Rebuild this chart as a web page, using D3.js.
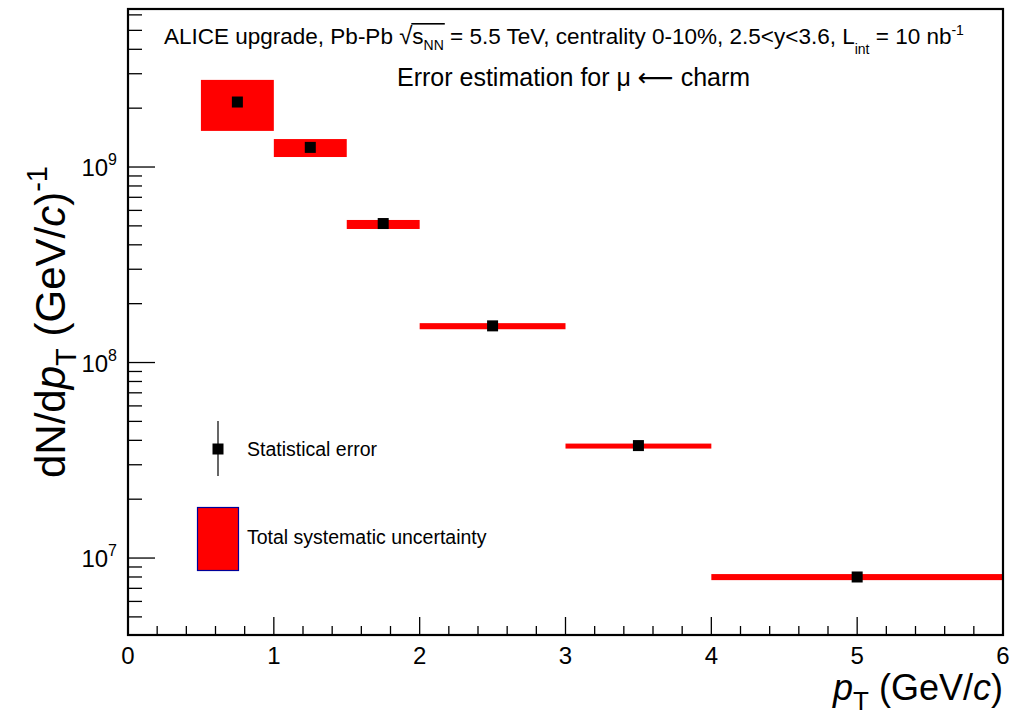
<!DOCTYPE html>
<html>
<head>
<meta charset="utf-8">
<script src="https://cdn.jsdelivr.net/npm/d3@7"></script>
<style>
  body { margin: 0; background: #fff; }
  text { font-family: "Liberation Sans", Arial, sans-serif; fill: #000; white-space: pre; }
</style>
</head>
<body>
<div id="chart"></div>
<script>
// pT bins (GeV/c) and spectrum values
var binLow  = [0.5, 1.0, 1.5, 2.0, 3.0, 4.0];
var binHigh = [1.0, 1.5, 2.0, 3.0, 4.0, 6.0];
var binCenter = [0.75, 1.25, 1.75, 2.5, 3.5, 5.0];
var yield_ = [2.15e9, 1.26e9, 5.14e8, 1.54e8, 3.76e7, 8.0e6];
var sysLow  = [1.53e9, 1.125e9, 4.82e8, 1.48e8, 3.63e7, 7.71e6];
var sysHigh = [2.79e9, 1.39e9, 5.36e8, 1.59e8, 3.85e7, 8.28e6];

var xTicks = [0, 1, 2, 3, 4, 5, 6];
var yDecades = [7, 8, 9];

var W = 1011, H = 720;
var margin = { top: 9, right: 8, bottom: 85, left: 128 },
  width = W - margin.left - margin.right,
  height = H - margin.top - margin.bottom;

var svg = d3.select("#chart")
  .append("svg")
  .attr("width", W)
  .attr("height", H);

var g = svg.append("g")
  .attr("transform", "translate(" + margin.left + "," + margin.top + ")");

var x = d3.scaleLinear().domain([0, 6]).range([0, width]);
var y = d3.scaleLog().domain([4.04e6, 6.43e9]).range([height, 0]);

// systematic boxes
g.selectAll("rect.sys")
  .data(binLow)
  .enter()
  .append("rect")
  .attr("class", "sys")
  .attr("x", function (d, i) { return x(binLow[i]); })
  .attr("width", function (d, i) { return x(binHigh[i]) - x(binLow[i]); })
  .attr("y", function (d, i) { return y(sysHigh[i]); })
  .attr("height", function (d, i) { return y(sysLow[i]) - y(sysHigh[i]); })
  .attr("fill", "#ff0000");

// markers
var ms = 11;
g.selectAll("rect.pt")
  .data(yield_)
  .enter()
  .append("rect")
  .attr("class", "pt")
  .attr("x", function (d, i) { return x(binCenter[i]) - ms / 2; })
  .attr("y", function (d) { return y(d) - ms / 2; })
  .attr("width", ms)
  .attr("height", ms)
  .attr("fill", "#000");

// x axis ticks, drawn inside the frame
var xMinor = d3.range(0, 31).map(function (i) { return i / 5; });
g.append("g").selectAll("line")
  .data(xMinor)
  .enter()
  .append("line")
  .attr("x1", function (d) { return x(d); })
  .attr("x2", function (d) { return x(d); })
  .attr("y1", height)
  .attr("y2", function (d) { return height - (xTicks.indexOf(d) >= 0 ? 18 : 9); })
  .attr("stroke", "#000").attr("stroke-width", 1.3);

g.append("g").selectAll("text")
  .data(xTicks)
  .enter()
  .append("text")
  .attr("x", function (d) { return x(d); })
  .attr("y", height + 29)
  .attr("text-anchor", "middle")
  .attr("font-size", 24)
  .text(function (d) { return d; });

// y axis ticks (log), inside the frame
var yMinor = [];
for (var e = 6; e <= 9; e++) {
  for (var m = 1; m <= 9; m++) {
    var v = m * Math.pow(10, e);
    if (v >= y.domain()[0] && v <= y.domain()[1]) yMinor.push(v);
  }
}
g.append("g").selectAll("line")
  .data(yMinor)
  .enter()
  .append("line")
  .attr("x1", 0)
  .attr("x2", function (d) { return Math.abs(Math.log10(d) % 1) < 1e-9 ? 27 : 14; })
  .attr("y1", function (d) { return y(d); })
  .attr("y2", function (d) { return y(d); })
  .attr("stroke", "#000").attr("stroke-width", 1.3);

yDecades.forEach(function (d) {
  var t = g.append("text")
    .attr("x", -11)
    .attr("y", y(Math.pow(10, d)) + 9)
    .attr("text-anchor", "end")
    .attr("font-size", 24);
  t.append("tspan").text("10");
  t.append("tspan").attr("font-size", 16).attr("dy", -11).text(d);
});

// frame
g.append("rect")
  .attr("width", width).attr("height", height)
  .attr("fill", "none").attr("stroke", "#000").attr("stroke-width", 2.2);

// rich text helper: pieces laid out one after another
function rich(parent, parts) {
  var grp = parent.append("g");
  var cx = 0, pos = [];
  parts.forEach(function (p) {
    var t = grp.append("text")
      .attr("x", cx)
      .attr("y", p.dy || 0)
      .attr("font-size", p.size)
      .style("font-style", p.italic ? "italic" : "normal")
      .text(p.t);
    if (p.font) t.style("font-family", p.font);
    var w = t.node().getComputedTextLength();
    pos.push([cx, cx + w]);
    cx += w + (p.gap || 0);
  });
  return { g: grp, w: cx, pos: pos };
}

// header lines
var h1 = rich(svg, [
  { t: "ALICE upgrade, Pb-Pb ", size: 22.5 },
  { t: "\u221A", size: 24 },
  { t: "s", size: 22.5 },
  { t: "NN", size: 14 , dy: 6 },
  { t: " = 5.5 TeV, centrality 0-10%, 2.5<y<3.6, L", size: 22.5 },
  { t: "int", size: 14, dy: 10 },
  { t: " = 10 nb", size: 22.5 },
  { t: "-1", size: 14, dy: -9 }
]);
h1.g.attr("transform", "translate(164,44)");
// overline of the square root over s_NN
var ovX = 164 + h1.pos[2][0] - 1, ovW = h1.pos[3][1] - h1.pos[2][0] + 2;
svg.append("rect")
  .attr("x", ovX).attr("y", 23)
  .attr("width", ovW).attr("height", 1.6)
  .attr("fill", "#000");

var h2 = rich(svg, [
  { t: "Error estimation for \u03BC ", size: 25 },
  { t: "\u27F5", size: 25, font: "DejaVu Sans" },
  { t: " charm", size: 25 }
]);
h2.g.attr("transform", "translate(397,86)");

// axis titles
var xt = rich(svg, [
  { t: "p", size: 36, italic: true },
  { t: "T", size: 26, dy: 10 },
  { t: " (GeV/", size: 36 },
  { t: "c", size: 36, italic: true },
  { t: ")", size: 36 }
]);
xt.g.attr("transform", "translate(" + (1003 - xt.w) + ",700)");

var yt = rich(svg, [
  { t: "dN/d", size: 42 },
  { t: "p", size: 42, italic: true },
  { t: "T", size: 29, dy: 11 },
  { t: " (GeV/", size: 42 },
  { t: "c", size: 42, italic: true },
  { t: ")", size: 42 },
  { t: "-1", size: 29, dy: -18 }
]);
var yc = margin.top + height / 2;
yt.g.attr("transform", "translate(65," + (yc + yt.w / 2) + ") rotate(-90)");

// legend
var leg = svg.append("g");
leg.append("line")
  .attr("x1", 218).attr("x2", 218).attr("y1", 421).attr("y2", 476)
  .attr("stroke", "#000").attr("stroke-width", 1.2);
leg.append("rect")
  .attr("x", 218 - ms / 2).attr("y", 449 - ms / 2)
  .attr("width", ms).attr("height", ms).attr("fill", "#000");
leg.append("text")
  .attr("x", 247).attr("y", 456)
  .attr("font-size", 19.5)
  .text("Statistical error");
leg.append("rect")
  .attr("x", 197.5).attr("y", 507.5).attr("width", 41).attr("height", 63)
  .attr("fill", "#ff0000").attr("stroke", "#000099").attr("stroke-width", 1.2);
leg.append("text")
  .attr("x", 247).attr("y", 544)
  .attr("font-size", 19.5)
  .text("Total systematic uncertainty");
</script>
</body>
</html>
